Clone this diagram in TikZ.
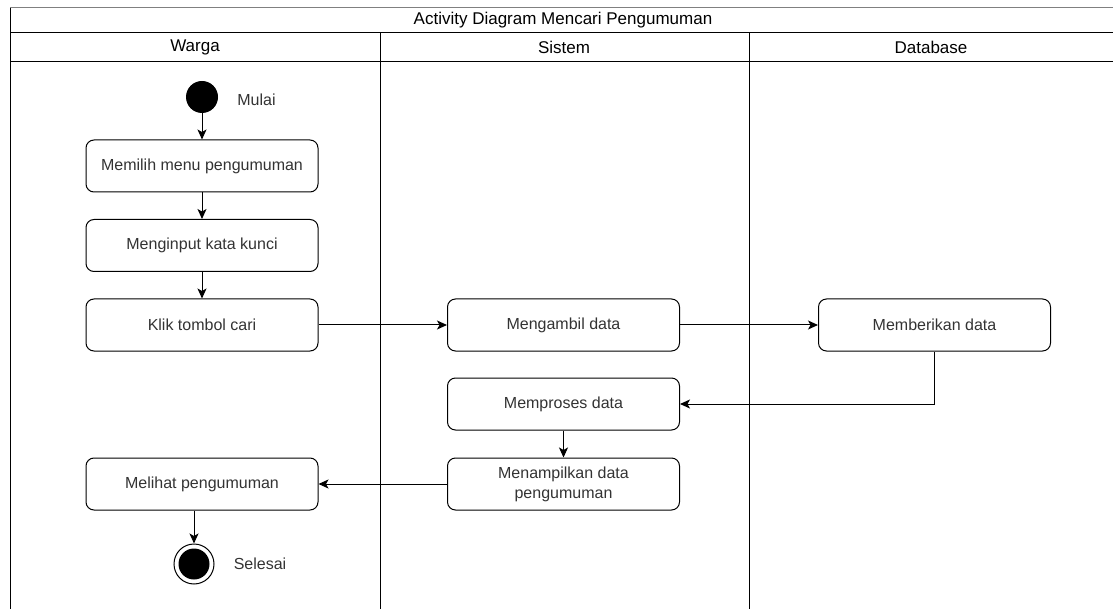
\documentclass[tikz,border=0pt]{standalone}
\usepackage{fontspec}
\setmainfont{Liberation Sans}
\usetikzlibrary{arrows.meta,positioning,calc}
\definecolor{txt}{HTML}{333333}
\tikzset{
  act/.style={draw, rounded corners=8pt, line width=1pt, minimum width=232pt, minimum height=52pt, align=center, font=\fontsize{16}{20}\selectfont, text=txt},
  flow/.style={-{Stealth[length=10pt,width=9pt,inset=2.5pt]}, line width=1pt},
  lane/.style={line width=1pt},
  lbl/.style={font=\fontsize{16}{18}\selectfont, text=txt},
  head/.style={font=\fontsize{17}{19}\selectfont, text=black},
}
\begin{document}
\begin{tikzpicture}[x=1pt,y=-1pt]
\useasboundingbox (0,0) rectangle (1113,609);
% frame
\draw[line width=1pt, gray] (10,8) -- (1113,8);
\draw[lane] (10,8) -- (10,609);
\draw[lane] (10,33) -- (1113,33);
\draw[lane] (10,62) -- (1113,62);
\draw[lane] (380,33) -- (380,609);
\draw[lane] (749,33) -- (749,609);
\node[head] (title) at (563,20) {Activity Diagram Mencari Pengumuman};
\node[head] (hw) at (195,47.5) {Warga};
\node[head] (hs) at (564,47.5) {Sistem};
\node[head] (hd) at (931,47.5) {Database};
% start
\node[circle, fill=black, minimum size=32pt, inner sep=0] (start) at (202,97) {};
\node[lbl] (mulai) at (256.5,100) {Mulai};
% activities
\node[act] (a1) at (202,166) {Memilih menu pengumuman};
\node[act] (a2) at (202,245.5) {Menginput kata kunci};
\node[act] (a3) at (202,325) {Klik tombol cari};
\node[act] (s1) at (563.5,325) {Mengambil data};
\node[act] (d1) at (934.5,325) {Memberikan data};
\node[act] (s2) at (563.5,404) {Memproses data};
\node[act] (s3) at (563.5,484) {Menampilkan data\\pengumuman};
\node[act] (a4) at (202,484) {Melihat pengumuman};
% end
\node[circle, draw, line width=1pt, minimum size=40pt, inner sep=0] (end) at (194,564) {};
\node[circle, fill=black, minimum size=31pt, inner sep=0] (endin) at (194,564) {};
\node[lbl] (selesai) at (260,564) {Selesai};
% flows
\draw[flow] (start) -- (a1);
\draw[flow] (a1) -- (a2);
\draw[flow] (a2) -- (a3);
\draw[flow] (a3) -- (s1);
\draw[flow] (s1) -- (d1);
\draw[flow] (d1.south) |- (s2.east);
\draw[flow] (s2) -- (s3);
\draw[flow] (s3) -- (a4);
\draw[flow] (a4.south -| end) -- (end);
\end{tikzpicture}
\end{document}
